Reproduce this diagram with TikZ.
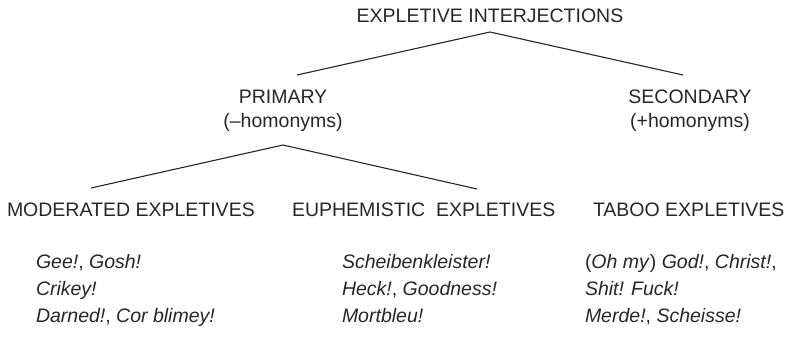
\documentclass[tikz,border=0pt]{standalone}
\usepackage{fontspec}
\setmainfont{Liberation Sans}
\definecolor{ink}{HTML}{262626}
\begin{document}
\begin{tikzpicture}[x=1pt,y=-1pt,
  lbl/.style={inner sep=0pt,outer sep=0pt,text=ink,font=\fontsize{19.5}{24}\selectfont},
  ex/.style={lbl,anchor=base west},
  branch/.style={draw=ink,line width=1.1pt,line join=miter}]
\useasboundingbox (0,0) rectangle (796,343);
% headings
\node[lbl,anchor=base] (top) at (490,22) {EXPLETIVE INTERJECTIONS};
\node[lbl,anchor=base,align=center] (prim) at (283,127) {PRIMARY\\(–homonyms)};
\node[lbl,anchor=base,align=center] (sec) at (690,127) {SECONDARY\\(+homonyms)};
\node[ex] (mod) at (7,216) {MODERATED EXPLETIVES};
\node[ex] (euph) at (292,216) {EUPHEMISTIC\ \ EXPLETIVES};
\node[ex] (tab) at (593,216) {TABOO EXPLETIVES};
% branch points
\coordinate (a0) at (490,32);
\coordinate (a1) at (297,75);
\coordinate (a2) at (683,75);
\coordinate (b0) at (283,145);
\coordinate (b1) at (91,188);
\coordinate (b2) at (477,189);
\draw[branch] (a1) -- (a0) -- (a2);
\draw[branch] (b1) -- (b0) -- (b2);
% examples
\node[ex] (m1) at (36,268) {\textit{Gee!}, \textit{Gosh!}};
\node[ex] (m2) at (36,295) {\textit{Crikey!}};
\node[ex] (m3) at (36,322) {\textit{Darned!}, \textit{Cor blimey!}};
\node[ex] (e1) at (342,268) {\textit{Scheibenkleister!}};
\node[ex] (e2) at (342,295) {\textit{Heck!}, \textit{Goodness!}};
\node[ex] (e3) at (342,322) {\textit{Mortbleu!}};
\node[ex] (t1) at (585,268) {(\textit{Oh my}) \textit{God!}, \textit{Christ!},};
\node[ex] (t2) at (585,295) {\textit{Shit! Fuck!}};
\node[ex] (t3) at (585,322) {\textit{Merde!}, \textit{Scheisse!}};
\end{tikzpicture}
\end{document}
